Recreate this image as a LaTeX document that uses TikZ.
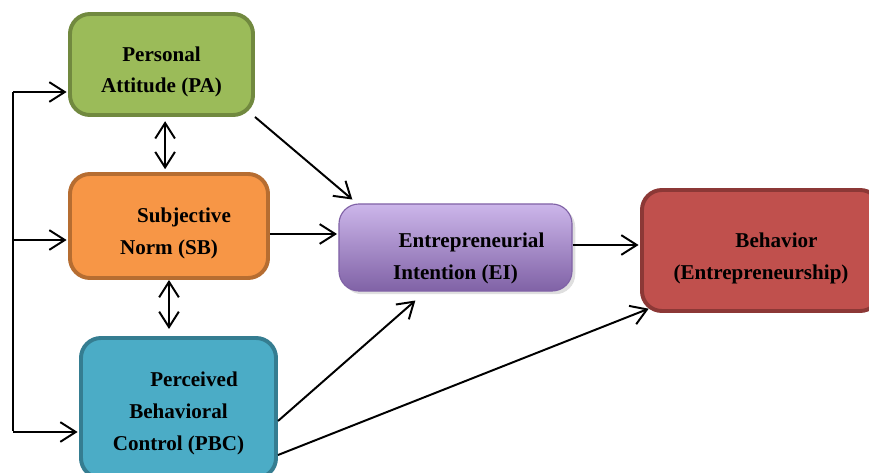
\documentclass[tikz,border=0pt]{standalone}
\usepackage{fontspec}
\setmainfont{Liberation Serif}
\usetikzlibrary{positioning,arrows.meta,shadows}

\definecolor{pafill}{RGB}{155,187,89}
\definecolor{padraw}{RGB}{113,137,63}
\definecolor{sbfill}{RGB}{247,150,70}
\definecolor{sbdraw}{RGB}{182,109,49}
\definecolor{pbcfill}{RGB}{75,172,198}
\definecolor{pbcdraw}{RGB}{53,125,145}
\definecolor{eitop}{RGB}{204,182,234}
\definecolor{eibot}{RGB}{128,98,166}
\definecolor{behfill}{RGB}{192,80,77}
\definecolor{behdraw}{RGB}{140,56,54}

\begin{document}
\begin{tikzpicture}[x=0.025cm,y=-0.025cm,>={Straight Barb[length=11pt,width=14pt]},
  shorten >=1pt,
  box/.style={draw,rounded corners=0.5cm,line width=2.8pt,align=center,
    font=\bfseries\fontsize{15}{22.5}\selectfont},
  link/.style={line width=1.4pt}]

\useasboundingbox (0,0) rectangle (869,473);

\node[box,fill=pafill,draw=padraw,minimum width=4.575cm,minimum height=2.525cm]
  (pa) at (161.5,64.5) {\rule{0pt}{21pt}Personal\\Attitude (PA)};
\node[box,fill=sbfill,draw=sbdraw,minimum width=4.95cm,minimum height=2.6cm]
  (sb) at (169,226) {\rule{0pt}{21pt}\hspace*{0.75cm}Subjective\\Norm (SB)};
\node[box,fill=pbcfill,draw=pbcdraw,minimum width=4.875cm,minimum height=3.5cm]
  (pbc) at (178.5,408) {\rule{0pt}{18pt}\hspace*{0.775cm}Perceived\\Behavioral\\Control (PBC)};
\node[box,line width=0.8pt,draw=eibot,top color=eitop,bottom color=eibot,
  drop shadow={opacity=0.25},minimum width=5.825cm,minimum height=2.175cm]
  (ei) at (455.5,247.5) {\rule{0pt}{26pt}\hspace*{0.8cm}Entrepreneurial\\Intention (EI)};
\node[box,fill=behfill,draw=behdraw,minimum width=5.95cm,minimum height=3.025cm]
  (beh) at (761,250.5) {\rule{0pt}{22pt}\hspace*{0.775cm}Behavior\\(Entrepreneurship)};

\coordinate (top) at (13,92);
\coordinate (mid) at (13,240);
\coordinate (bot) at (13,432);

\draw[link] (top) -- (bot);
\draw[link,->] (top) -- (top -| pa.west);
\draw[link,->] (mid) -- (mid -| sb.west);
\draw[link,->] (bot) -- (bot -| pbc.west);

\draw[link,<->,shorten <=3pt,shorten >=2pt] ([xshift=0.09cm]pa.south) -- ([xshift=0.09cm]pa.south |- sb.north);
\draw[link,<->,shorten >=5pt] (sb.south) -- (sb.south |- pbc.north);

\draw[link,->] (pa.south east) -- ([xshift=0.375cm,yshift=0.075cm]ei.north west);
\draw[link,->] ([yshift=-0.2cm]sb.east) -- ([yshift=-0.2cm]sb.east -| ei.west);
\draw[link,->] ([yshift=-0.325cm]pbc.east) -- ([xshift=1.95cm,yshift=-0.2cm]ei.south west);
\draw[link,->] ([yshift=0.0625cm]ei.east) -- ([yshift=0.0625cm]ei.east -| beh.west);
\draw[link,->] ([yshift=-1.175cm]pbc.east) -- ([xshift=0.25cm,yshift=0.12cm]beh.south west);

\end{tikzpicture}
\end{document}
